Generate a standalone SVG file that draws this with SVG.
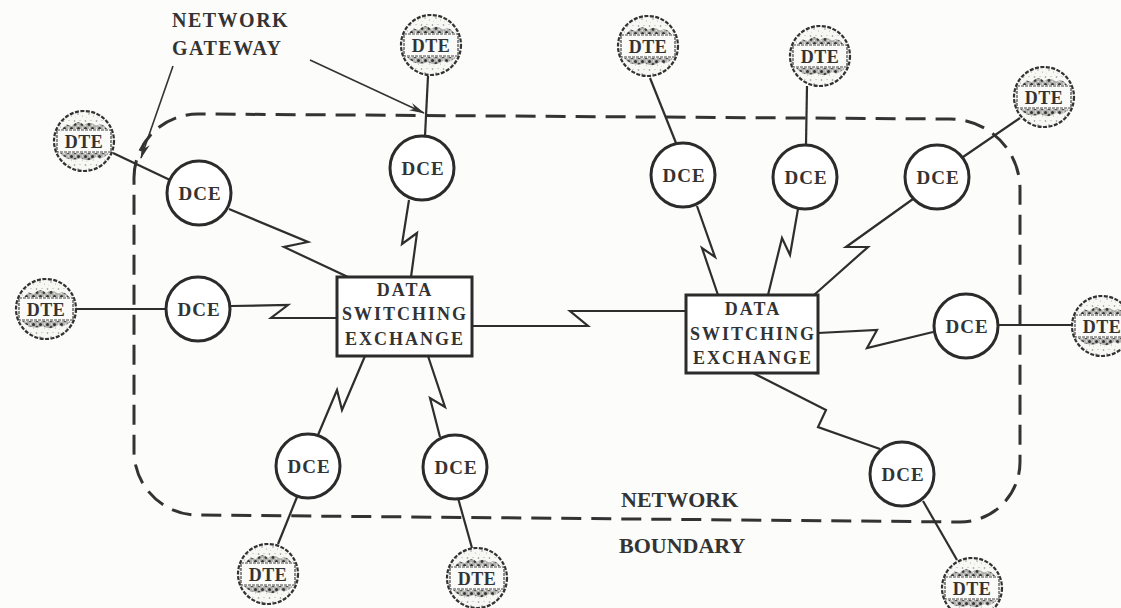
<svg xmlns="http://www.w3.org/2000/svg" xmlns:xlink="http://www.w3.org/1999/xlink" width="1121" height="608" viewBox="0 0 1121 608">
<style>
.bg{fill:#fcfcfa}
.conn{fill:none;stroke:#2e2e2e;stroke-width:2.2;stroke-linejoin:miter}
.bound{fill:none;stroke:#333;stroke-width:3;stroke-dasharray:20 10}
.dce{fill:#fff;stroke:#2b2b2b;stroke-width:3}
.box{fill:#fff;stroke:#2b2b2b;stroke-width:3}
.lbl{font-family:"Liberation Serif","Times New Roman",serif;font-weight:bold;fill:#333}
.dcet{font-size:19px;letter-spacing:1px;text-anchor:middle}
.dtet{font-size:18px;letter-spacing:0.5px;text-anchor:middle}
.boxt{font-size:18px;letter-spacing:2px;text-anchor:middle}
.cap{font-size:20px;letter-spacing:1.5px}
.cap2{font-size:22px}
.arrow{fill:none;stroke:#333;stroke-width:1.6}
</style>
<defs>
<pattern id="stip" width="11" height="11" patternUnits="userSpaceOnUse">
<rect width="11" height="11" fill="#f7f7f4"/>
<circle cx="1.5" cy="2" r="0.8" fill="#888"/>
<circle cx="7" cy="1.5" r="0.5" fill="#999"/>
<circle cx="5" cy="6" r="0.7" fill="#7a7a7a"/>
<circle cx="9.5" cy="8" r="0.5" fill="#999"/>
<circle cx="2.5" cy="9.2" r="0.4" fill="#aaa"/>
</pattern>
<pattern id="stipDark" width="7" height="7" patternUnits="userSpaceOnUse">
<rect width="7" height="7" fill="#b0b0ad"/>
<circle cx="1.5" cy="1.5" r="1.5" fill="#333"/>
<circle cx="5" cy="4.5" r="1.4" fill="#3a3a3a"/>
<circle cx="5.5" cy="1" r="0.7" fill="#f0f0f0"/>
<circle cx="1.2" cy="5.5" r="0.8" fill="#e6e6e6"/>
</pattern>
<clipPath id="dteClip"><circle r="28.5"/></clipPath>
<g id="dteBody">
<circle r="30" fill="url(#stip)"/>
<g clip-path="url(#dteClip)">
<path d="M-22,-12 Q-18,-18 -12,-15 Q-6,-22 0,-16 Q6,-21 12,-15 Q18,-19 23,-12 Z" fill="url(#stipDark)"/>
<path d="M-24,12 L24,12 Q20,19 12,16 Q5,22 -3,17 Q-12,21 -21,15 Z" fill="url(#stipDark)"/>
</g>
<circle r="30" fill="none" stroke="#333" stroke-width="2.2" stroke-dasharray="4 1.5"/>
<rect x="-27" y="-11" width="54" height="22" fill="#fafaf8" stroke="#444" stroke-width="1.2" stroke-dasharray="3 1"/>
</g>
<marker id="ah" markerUnits="userSpaceOnUse" markerWidth="16" markerHeight="8" viewBox="0 0 16 8" refX="15" refY="4" orient="auto">
<path d="M0,0 L16,4 L0,8 L5,4 Z" fill="#333"/>
</marker>
</defs>
<rect class="bg" x="0" y="0" width="1121" height="608"/>

<g id="boundary">
<path class="bound" d="M134,180 A64,64 0 0 1 198,114 L950,119 A70,70 0 0 1 1020,189 L1020,462 A60,60 0 0 1 960,522 L198,515 A64,64 0 0 1 134,451 Z"/>
</g>

<g id="connectors">
<path class="conn" d="M229,209 L308,242 L284,247 L348,277"/>
<path class="conn" d="M409,200 L402,244 L417,233 L411,277"/>
<path class="conn" d="M231,306 L288,305 L271,318 L337,318"/>
<path class="conn" d="M472,326 L588,326 L570,311 L686,311"/>
<path class="conn" d="M365,356 L342,410 L337,390 L318,435"/>
<path class="conn" d="M428,356 L445,407 L430,398 L440,437"/>
<path class="conn" d="M697,206 L715,257 L702,248 L718,295"/>
<path class="conn" d="M798,209 L790,255 L782,238 L768,295"/>
<path class="conn" d="M913,199 L846,247 L868,247 L814,295"/>
<path class="conn" d="M818,333 L877,330 L867,348 L933,332"/>
<path class="conn" d="M753,373 L826,410 L818,427 L880,449"/>
<line class="conn" x1="113" y1="153" x2="170" y2="180"/>
<line class="conn" x1="428" y1="76" x2="425" y2="136"/>
<line class="conn" x1="650" y1="78" x2="676" y2="143"/>
<line class="conn" x1="807" y1="86" x2="806" y2="145"/>
<line class="conn" x1="1020" y1="118" x2="963" y2="157"/>
<line class="conn" x1="76" y1="309" x2="166" y2="309"/>
<line class="conn" x1="998" y1="325" x2="1072" y2="325"/>
<line class="conn" x1="297" y1="497" x2="278" y2="544"/>
<line class="conn" x1="458" y1="498" x2="472" y2="548"/>
<line class="conn" x1="923" y1="501" x2="957" y2="560"/>
<line class="arrow" x1="173" y1="66" x2="141" y2="158" marker-end="url(#ah)"/>
<line class="arrow" x1="310" y1="60" x2="424" y2="113" marker-end="url(#ah)"/>
</g>

<g id="dse-left">
<rect class="box" x="337" y="277" width="135" height="79"/>
<text class="lbl boxt" x="405" y="296">DATA</text>
<text class="lbl boxt" x="405" y="320">SWITCHING</text>
<text class="lbl boxt" x="405" y="345">EXCHANGE</text>
</g>
<g id="dse-right">
<rect class="box" x="686" y="295" width="132" height="78"/>
<text class="lbl boxt" x="753" y="315">DATA</text>
<text class="lbl boxt" x="753" y="340">SWITCHING</text>
<text class="lbl boxt" x="753" y="364">EXCHANGE</text>
</g>

<g id="dce1"><circle class="dce" cx="199" cy="193" r="32"/><text class="lbl dcet" x="200" y="200">DCE</text></g>
<g id="dce2"><circle class="dce" cx="422" cy="168" r="32"/><text class="lbl dcet" x="423" y="175">DCE</text></g>
<g id="dce3"><circle class="dce" cx="683" cy="175" r="32"/><text class="lbl dcet" x="684" y="182">DCE</text></g>
<g id="dce4"><circle class="dce" cx="805" cy="177" r="32"/><text class="lbl dcet" x="806" y="184">DCE</text></g>
<g id="dce5"><circle class="dce" cx="937" cy="177" r="32"/><text class="lbl dcet" x="938" y="184">DCE</text></g>
<g id="dce6"><circle class="dce" cx="198" cy="309" r="32"/><text class="lbl dcet" x="199" y="316">DCE</text></g>
<g id="dce7"><circle class="dce" cx="966" cy="326" r="32"/><text class="lbl dcet" x="967" y="333">DCE</text></g>
<g id="dce8"><circle class="dce" cx="308" cy="466" r="32"/><text class="lbl dcet" x="309" y="473">DCE</text></g>
<g id="dce9"><circle class="dce" cx="455" cy="467" r="32"/><text class="lbl dcet" x="456" y="474">DCE</text></g>
<g id="dce10"><circle class="dce" cx="902" cy="474" r="32"/><text class="lbl dcet" x="903" y="481">DCE</text></g>

<g id="dte1"><use xlink:href="#dteBody" href="#dteBody" transform="translate(84,141)"/><text class="lbl dtet" x="84" y="148">DTE</text></g>
<g id="dte2"><use xlink:href="#dteBody" href="#dteBody" transform="translate(431,45)"/><text class="lbl dtet" x="431" y="52">DTE</text></g>
<g id="dte3"><use xlink:href="#dteBody" href="#dteBody" transform="translate(648,46)"/><text class="lbl dtet" x="648" y="53">DTE</text></g>
<g id="dte4"><use xlink:href="#dteBody" href="#dteBody" transform="translate(820,56)"/><text class="lbl dtet" x="820" y="63">DTE</text></g>
<g id="dte5"><use xlink:href="#dteBody" href="#dteBody" transform="translate(1044,97)"/><text class="lbl dtet" x="1044" y="104">DTE</text></g>
<g id="dte6"><use xlink:href="#dteBody" href="#dteBody" transform="translate(46,309)"/><text class="lbl dtet" x="46" y="316">DTE</text></g>
<g id="dte7"><use xlink:href="#dteBody" href="#dteBody" transform="translate(1102,326)"/><text class="lbl dtet" x="1102" y="333">DTE</text></g>
<g id="dte8"><use xlink:href="#dteBody" href="#dteBody" transform="translate(268,574)"/><text class="lbl dtet" x="268" y="581">DTE</text></g>
<g id="dte9"><use xlink:href="#dteBody" href="#dteBody" transform="translate(477,578)"/><text class="lbl dtet" x="477" y="585">DTE</text></g>
<g id="dte10"><use xlink:href="#dteBody" href="#dteBody" transform="translate(972,588)"/><text class="lbl dtet" x="972" y="595">DTE</text></g>

<g id="gateway-label">
<text class="lbl cap" x="172" y="27">NETWORK</text>
<text class="lbl cap" x="172" y="55">GATEWAY</text>
</g>
<g id="boundary-label">
<text class="lbl cap2" x="621" y="507">NETWORK</text>
<text class="lbl cap2" x="619" y="553">BOUNDARY</text>
</g>
</svg>
